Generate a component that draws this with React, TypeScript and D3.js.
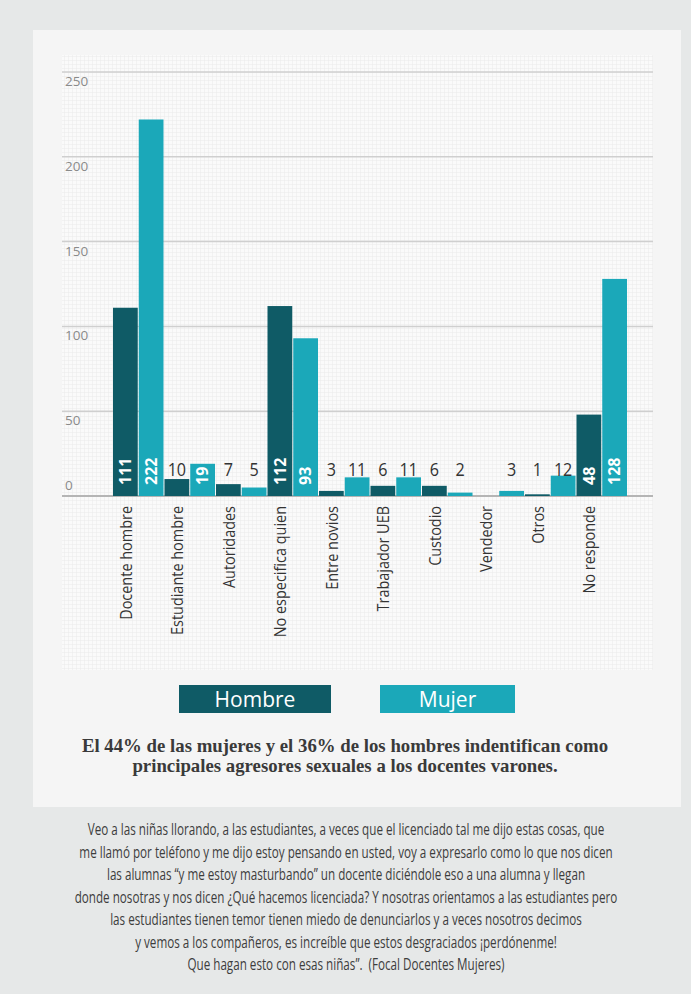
import React from "react";
import * as d3 from "d3";

const CATEGORIES = [
  "Docente hombre",
  "Estudiante hombre",
  "Autoridades",
  "No especifica quien",
  "Entre novios",
  "Trabajador UEB",
  "Custodio",
  "Vendedor",
  "Otros",
  "No responde",
];
const SERIES = ["Hombre", "Mujer"];
const HOMBRE = [111, 10, 7, 112, 3, 6, 6, 0, 1, 48];
const MUJER = [222, 19, 5, 93, 11, 11, 2, 3, 12, 128];
const Y_TICKS = [0, 50, 100, 150, 200, 250];
const CAPTION_LINES = [
  "El 44% de las mujeres y el 36% de los hombres indentifican como",
  "principales agresores sexuales a los docentes varones.",
];
const QUOTE_LINES = [
  "Veo a las niñas llorando, a las estudiantes, a veces que el licenciado tal me dijo estas cosas, que",
  "me llamó por teléfono y me dijo estoy pensando en usted, voy a expresarlo como lo que nos dicen",
  "las alumnas “y me estoy masturbando” un docente diciéndole eso a una alumna y llegan",
  "donde nosotras y nos dicen ¿Qué hacemos licenciada? Y nosotras orientamos a las estudiantes pero",
  "las estudiantes tienen temor tienen miedo de denunciarlos y a veces nosotros decimos",
  "y vemos a los compañeros, es increíble que estos desgraciados ¡perdónenme!",
  "Que hagan esto con esas niñas”.  (Focal Docentes Mujeres)",
];

const SANS = "'Open Sans', 'Noto Sans', sans-serif";
const SERIF = "'Liberation Serif', 'DejaVu Serif', serif";

export default function App() {
  const W = 691;
  const H = 994;
  const x = d3.scaleBand<string>().domain(CATEGORIES).range([113, 628]).paddingInner(0).paddingOuter(0);
  const xs = d3.scaleBand<string>().domain(SERIES).range([0, x.bandwidth()]);
  const y = d3.scaleLinear().domain([0, 250]).range([496, 72]);
  const color = d3.scaleOrdinal<string, string>().domain(SERIES).range(["#0f5b66", "#1ba8b9"]);
  const values: Record<string, number[]> = { Hombre: HOMBRE, Mujer: MUJER };
  const legendX = d3.scaleOrdinal<string, number>().domain(SERIES).range([179, 380]);
  const legendW = d3.scaleOrdinal<string, number>().domain(SERIES).range([152, 135]);

  const bars: React.ReactNode[] = [];
  const labels: React.ReactNode[] = [];
  CATEGORIES.forEach((c, i) => {
    SERIES.forEach((s) => {
      const v = values[s][i];
      const bx = (x(c) as number) + (xs(s) as number);
      const bw = xs.bandwidth() - 1;
      const cx = bx + bw / 2;
      bars.push(
        <rect key={`b-${c}-${s}`} x={bx} y={y(v)} width={bw} height={y(0) - y(v)} fill={color(s)} />
      );
      if (v >= 19) {
        labels.push(
          <text
            key={`l-${c}-${s}`}
            transform={`translate(${cx},${y(0) - 11}) rotate(-90)`}
            dy="0.36em"
            fontFamily={SANS}
            fontWeight={700}
            fontSize={16}
            fill="#ffffff"
          >
            {v}
          </text>
        );
      } else if (v > 0) {
        labels.push(
          <text
            key={`l-${c}-${s}`}
            transform={`translate(${cx},${y(0) - 20}) scale(0.85,1)`}
            textAnchor="middle"
            fontFamily={SANS}
            fontSize={19}
            fill="#333333"
          >
            {v}
          </text>
        );
      }
    });
  });

  return (
    <svg width={W} height={H} style={{ position: "absolute", left: 0, top: 0 }}>
      <defs>
        <pattern id="fine" width="4" height="4" patternUnits="userSpaceOnUse">
          <rect width="4" height="4" fill="#fafafa" />
          <path d="M4 0 L0 0 0 4" stroke="#ebebeb" strokeWidth={1} fill="none" />
        </pattern>
      </defs>
      <rect x={0} y={0} width={W} height={H} fill="#e6e8e8" />
      <rect x={33} y={30} width={648} height={777} fill="#f5f5f5" />
      <rect x={62} y={55} width={591} height={615} fill="url(#fine)" />

      {Y_TICKS.map((t) => (
        <g key={`t-${t}`}>
          <line x1={62} x2={653} y1={y(t)} y2={y(t)} stroke={t === 0 ? "#b5b5b5" : "#cfcfcf"} strokeWidth={t === 0 ? 2 : 1.5} />
          <text x={65} y={t === 0 ? y(t) - 6 : y(t) + 14} fontFamily={SANS} fontSize={13.5} fill="#8a8a8a">
            {t}
          </text>
        </g>
      ))}

      {bars}
      {labels}

      {CATEGORIES.map((c) => (
        <text
          key={`c-${c}`}
          transform={`translate(${(x(c) as number) + x.bandwidth() / 2 - 7},${y(0) + 10}) rotate(-90) scale(0.85,1)`}
          textAnchor="end"
          fontFamily={SANS}
          fontSize={17}
          fill="#333333"
        >
          {c}
        </text>
      ))}

      {SERIES.map((s) => (
        <g key={`lg-${s}`}>
          <rect x={legendX(s)} y={685} width={legendW(s)} height={28} fill={color(s)} />
          <text
            x={legendX(s) + legendW(s) / 2}
            y={707}
            textAnchor="middle"
            fontFamily={SANS}
            fontSize={21}
            fill="#ffffff"
          >
            {s}
          </text>
        </g>
      ))}

      {CAPTION_LINES.map((l, i) => (
        <text
          key={`cap-${i}`}
          x={345}
          y={752 + i * 20}
          textAnchor="middle"
          fontFamily={SERIF}
          fontWeight={700}
          fontSize={18.8}
          fill="#3a3a3a"
        >
          {l}
        </text>
      ))}

      {QUOTE_LINES.map((l, i) => (
        <text
          key={`q-${i}`}
          transform={`translate(346,${835 + i * 22.5}) scale(0.72,1)`}
          textAnchor="middle"
          fontFamily={SANS}
          fontSize={16.2}
          fill="#3d3d3d"
          style={{ whiteSpace: "pre" }}
        >
          {l}
        </text>
      ))}
    </svg>
  );
}
